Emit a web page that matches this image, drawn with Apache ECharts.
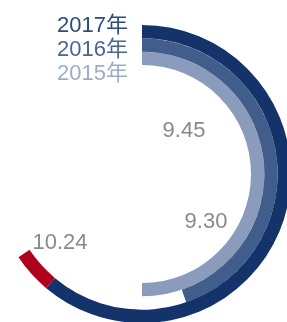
<!DOCTYPE html>
<html>
<head>
<meta charset="utf-8">
<style>
  html, body { margin: 0; padding: 0; background: #fff; }
  #main { width: 287px; height: 322px; }
</style>
<script src="https://cdn.jsdelivr.net/npm/echarts@6/dist/echarts.min.js"></script>
</head>
<body>
<div id="main"></div>
<script>
// 数据
var years = ['2015年', '2016年', '2017年'];
var values = [9.30, 9.45, 10.24];
// 环形长度（角度，从顶部顺时针）
var arcMain = [180, 161, 220];
var arcTip = [0, 0, 16];
var colors = ['#8a9bbb', '#405d8c', '#14336a'];
var textColors = ['#9dadc8', '#4a6694', '#2e4a7e'];
var tipColor = '#b0001e';

var chart = echarts.init(document.getElementById('main'));

// 每年一个系列，堆叠在一起
var series = years.map(function (y, i) {
	return {
		name: y,
		type: 'bar',
		coordinateSystem: 'polar',
		stack: 'ring',
		barCategoryGap: '0%',
		itemStyle: { color: colors[i] },
		data: years.map(function (_, j) { return j === i ? arcMain[i] : '-'; })
	};
});
series.push({
	name: 'tip',
	type: 'bar',
	coordinateSystem: 'polar',
	stack: 'ring',
	barCategoryGap: '0%',
	itemStyle: { color: tipColor },
	data: arcTip.map(function (v) { return v > 0 ? v : '-'; })
});

var labelPos = [[206, 222], [184, 131], [60, 243]];

var option = {
	animation: false,
	polar: {
		center: [142, 174],
		radius: [109, 149]
	},
	angleAxis: {
		type: 'value',
		min: 0,
		max: 360,
		startAngle: 90,
		clockwise: true,
		show: false
	},
	radiusAxis: {
		type: 'category',
		data: years,
		show: false
	},
	legend: {
		orient: 'vertical',
		left: 47,
		top: 10,
		itemWidth: 0,
		itemGap: 2,
		icon: 'none',
		selectedMode: false,
		data: [2, 1, 0].map(function (i) {
			return {
				name: years[i],
				textStyle: { color: textColors[i], fontSize: 22, fontFamily: 'Liberation Sans, Noto Sans CJK SC, sans-serif' }
			};
		})
	},
	graphic: values.map(function (v, i) {
		return {
			type: 'text',
			x: labelPos[i][0],
			y: labelPos[i][1],
			style: {
				text: v.toFixed(2),
				fill: '#8a8a8a',
				font: '22px Liberation Sans, sans-serif',
				align: 'center',
				verticalAlign: 'middle'
			}
		};
	}),
	series: series
};
chart.setOption(option);

window.addEventListener('resize', function () {
	chart.resize();
});
</script>
</body>
</html>
